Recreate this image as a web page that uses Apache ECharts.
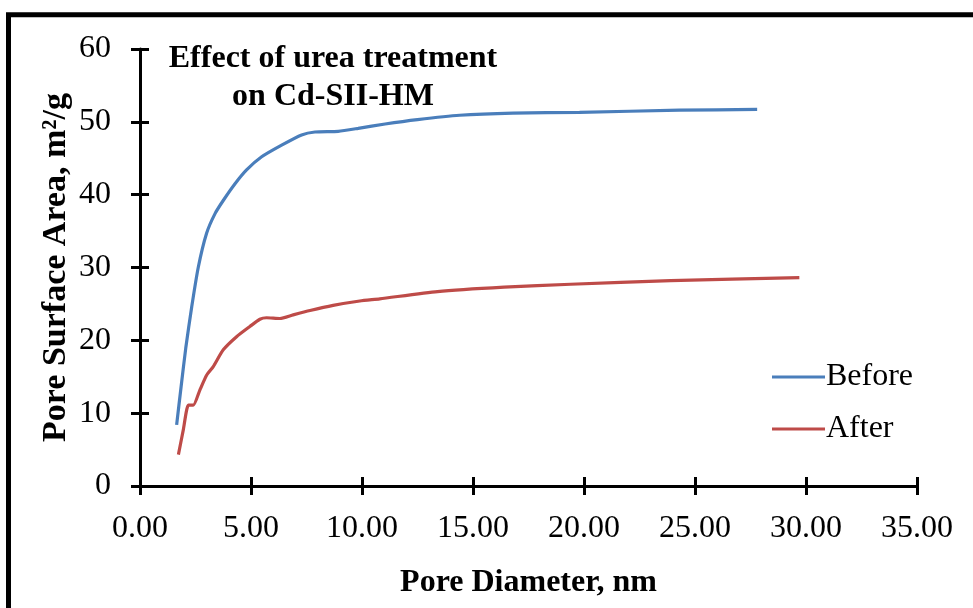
<!DOCTYPE html>
<html>
<head>
<meta charset="utf-8">
<script src="https://cdn.jsdelivr.net/npm/echarts@6/dist/echarts.min.js"></script>
<style>
html,body{margin:0;padding:0;background:#fff;}
#chart{width:973px;height:608px;}
</style>
</head>
<body>
<div id="chart"></div>
<script>
// Data
const beforeX = [1.65, 1.85, 2.06, 2.33, 2.63, 3.0, 3.38, 3.75, 4.28, 4.8, 5.48, 6.38, 7.28, 7.88, 8.93, 9.83, 11.04, 12.5, 14.4, 16.8, 19.8, 24.3, 27.8];
const beforeY = [8.4, 13.6, 18.9, 24.6, 30.1, 34.7, 37.4, 39.2, 41.5, 43.4, 45.2, 46.8, 48.2, 48.6, 48.7, 49.1, 49.7, 50.3, 50.9, 51.2, 51.3, 51.6, 51.7];
const afterX = [1.73, 1.95, 2.18, 2.4, 2.7, 3.0, 3.3, 3.75, 4.35, 4.95, 5.4, 5.7, 6.3, 6.9, 7.66, 8.7, 9.9, 10.8, 13.4, 16.4, 19.4, 23.9, 29.7];
const afterY = [4.3, 7.7, 11.1, 11.1, 13.2, 15.2, 16.4, 18.7, 20.5, 21.9, 22.9, 23.1, 23.0, 23.5, 24.1, 24.8, 25.4, 25.7, 26.7, 27.3, 27.7, 28.2, 28.6];
const seriesNames = ['Before', 'After'];
const titleText = 'Effect of urea treatment\non Cd-SII-HM';
const xName = 'Pore Diameter, nm';
const yName = 'Pore Surface Area, m\u00B2/g';

const zip = (xs, ys) => xs.map((x, i) => [x, ys[i]]);
const FONT = '"Liberation Serif", "Times New Roman", serif';
const BLUE = '#4A7EBB', RED = '#BE4B48';

const chart = echarts.init(document.getElementById('chart'));
const baseAxisX = {
  type: 'value', min: 0, max: 35, interval: 5,
  splitLine: {show: false},
};
const baseAxisY = {
  type: 'value', min: 0, max: 60, interval: 10,
  splitLine: {show: false},
};
chart.setOption({
  animation: false,
  backgroundColor: '#fff',
  graphic: [{
    type: 'rect', silent: true,
    shape: {x: 8.5, y: 14.8, width: 1100, height: 800},
    style: {fill: 'none', stroke: '#000', lineWidth: 5}
  }],
  title: {
    text: titleText,
    left: 328, top: 35, textAlign: 'center',
    textStyle: {fontFamily: FONT, fontWeight: 'bold', fontSize: 32, lineHeight: 38, color: '#000'}
  },
  legend: {
    orient: 'vertical', left: 767, top: 356,
    itemWidth: 53, itemHeight: 3, itemGap: 20, icon: 'rect',
    data: seriesNames,
    textStyle: {fontFamily: FONT, fontSize: 32, lineHeight: 32, color: '#000', padding: [0, 0, 0, -4]}
  },
  grid: {left: 140, right: 56, top: 49, bottom: 122, containLabel: false},
  xAxis: [
    Object.assign({}, baseAxisX, {
      name: xName, nameLocation: 'middle', nameGap: 81, nameMoveOverlap: false,
      nameTextStyle: {fontFamily: FONT, fontWeight: 'bold', fontSize: 32, color: '#000'},
      axisLine: {lineStyle: {color: '#000', width: 3}},
      axisTick: {length: 9, lineStyle: {color: '#000', width: 3}},
      axisLabel: {margin: 27, fontFamily: FONT, fontSize: 32, color: '#000', formatter: v => v.toFixed(2)}
    }),
    Object.assign({}, baseAxisX, {
      position: 'bottom',
      axisLine: {show: false},
      axisTick: {inside: true, length: 9, lineStyle: {color: '#000', width: 3}},
      axisLabel: {show: false}
    })
  ],
  yAxis: [
    Object.assign({}, baseAxisY, {
      name: yName, nameLocation: 'middle', nameGap: 67, nameRotate: 90, nameMoveOverlap: false,
      nameTextStyle: {fontFamily: FONT, fontWeight: 'bold', fontSize: 34, color: '#000'},
      axisLine: {show: true, lineStyle: {color: '#000', width: 3}},
      axisTick: {show: true, length: 9, lineStyle: {color: '#000', width: 3}},
      axisLabel: {margin: 29, fontFamily: FONT, fontSize: 32, color: '#000'}
    }),
    Object.assign({}, baseAxisY, {
      position: 'left',
      axisLine: {show: false},
      axisTick: {show: true, inside: true, length: 9, lineStyle: {color: '#000', width: 3}},
      axisLabel: {show: false}
    })
  ],
  series: [
    {
      name: seriesNames[0], type: 'line', xAxisIndex: 0, yAxisIndex: 0,
      data: zip(beforeX, beforeY), smooth: 0.2, symbol: 'none',
      lineStyle: {color: BLUE, width: 3.2}, itemStyle: {color: BLUE}
    },
    {
      name: seriesNames[1], type: 'line', xAxisIndex: 0, yAxisIndex: 0,
      data: zip(afterX, afterY), smooth: 0.2, symbol: 'none',
      lineStyle: {color: RED, width: 3.2}, itemStyle: {color: RED}
    }
  ]
});
</script>
</body>
</html>
